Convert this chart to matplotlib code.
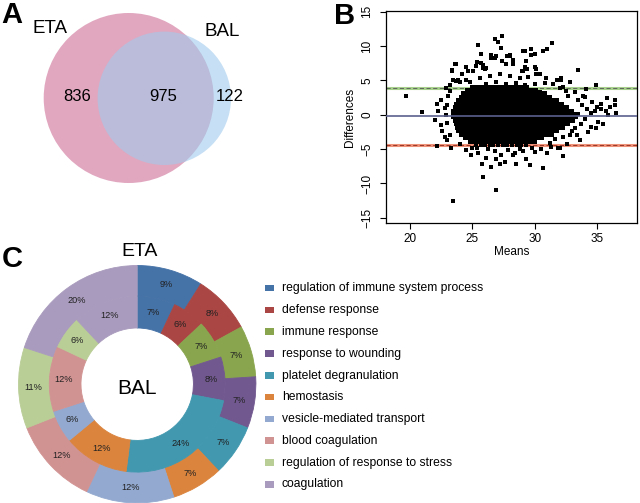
import matplotlib
matplotlib.use("Agg")
import matplotlib.pyplot as plt
from matplotlib.patches import Circle, Rectangle

plt.rcParams['font.family'] = ['Liberation Sans', 'DejaVu Sans']

# --- panel A: venn counts
venn_names = ["ETA", "BAL"]
venn_counts = [836, 975, 122]   # ETA only, both, BAL only

# --- panel B: Bland-Altman (means vs differences)
core_rows_y = [4.1, 3.6, 3.1, 2.6, 2.1, 1.6, 1.1, 0.6, 0.1, -0.4, -0.9,
               -1.4, -1.9, -2.4, -2.9, -3.4, -3.9, -4.4]
core_rows_x = [
    [25.0, 25.3, 25.6, 25.8, 26.1, 26.4, 26.6, 26.9, 27.2, 27.5, 27.7, 28.0, 28.3, 28.5, 28.8, 29.1, 29.4],
    [24.6, 24.9, 25.2, 25.4, 25.7, 26.0, 26.2, 26.5, 26.8, 27.0, 27.3, 27.6, 27.9, 28.1, 28.4, 28.7, 28.9,
     29.2, 29.5, 29.8, 30.1],
    [24.3, 24.6, 24.8, 25.1, 25.4, 25.6, 25.9, 26.2, 26.5, 26.7, 27.0, 27.3, 27.5, 27.8, 28.1, 28.3, 28.6,
     28.9, 29.2, 29.4, 29.7, 30.0, 30.2, 30.5, 30.8],
    [24.1, 24.4, 24.6, 24.9, 25.2, 25.5, 25.7, 26.0, 26.3, 26.5, 26.8, 27.1, 27.4, 27.6, 27.9, 28.2, 28.4,
     28.7, 29.0, 29.3, 29.5, 29.8, 30.1, 30.3, 30.6, 30.9, 31.2],
    [23.9, 24.2, 24.4, 24.7, 25.0, 25.2, 25.5, 25.8, 26.1, 26.3, 26.6, 26.9, 27.1, 27.4, 27.7, 28.0, 28.2,
     28.5, 28.8, 29.0, 29.3, 29.6, 29.9, 30.1, 30.4, 30.7, 30.9, 31.2, 31.5, 31.8],
    [23.7, 24.0, 24.3, 24.5, 24.8, 25.1, 25.3, 25.6, 25.9, 26.2, 26.4, 26.7, 27.0, 27.2, 27.5, 27.8, 28.1,
     28.3, 28.6, 28.9, 29.1, 29.4, 29.7, 30.0, 30.2, 30.5, 30.8, 31.0, 31.3, 31.6, 31.9, 32.2],
    [23.6, 23.9, 24.1, 24.4, 24.7, 24.9, 25.2, 25.5, 25.8, 26.0, 26.3, 26.6, 26.8, 27.1, 27.4, 27.7, 27.9,
     28.2, 28.5, 28.7, 29.0, 29.3, 29.6, 29.8, 30.1, 30.4, 30.6, 30.9, 31.2, 31.5, 31.7, 32.0, 32.3, 32.6],
    [23.5, 23.8, 24.0, 24.3, 24.6, 24.8, 25.1, 25.4, 25.7, 25.9, 26.2, 26.5, 26.7, 27.0, 27.3, 27.6, 27.8,
     28.1, 28.4, 28.6, 28.9, 29.2, 29.5, 29.7, 30.0, 30.3, 30.5, 30.8, 31.1, 31.4, 31.6, 31.9, 32.2, 32.4,
     32.7, 33.0],
    [23.5, 23.7, 24.0, 24.3, 24.5, 24.8, 25.1, 25.4, 25.6, 25.9, 26.2, 26.4, 26.7, 27.0, 27.3, 27.5, 27.8,
     28.1, 28.3, 28.6, 28.9, 29.2, 29.4, 29.7, 30.0, 30.2, 30.5, 30.8, 31.1, 31.3, 31.6, 31.9, 32.1, 32.4,
     32.7, 33.0, 33.2, 33.5],
    [23.5, 23.8, 24.1, 24.3, 24.6, 24.9, 25.1, 25.4, 25.7, 26.0, 26.2, 26.5, 26.8, 27.0, 27.3, 27.6, 27.9,
     28.1, 28.4, 28.7, 28.9, 29.2, 29.5, 29.8, 30.0, 30.3, 30.6, 30.8, 31.1, 31.4, 31.7, 31.9, 32.2, 32.5,
     32.7, 33.0, 33.3],
    [23.6, 23.9, 24.1, 24.4, 24.7, 24.9, 25.2, 25.5, 25.8, 26.0, 26.3, 26.6, 26.8, 27.1, 27.4, 27.7, 27.9,
     28.2, 28.5, 28.7, 29.0, 29.3, 29.6, 29.8, 30.1, 30.4, 30.6, 30.9, 31.2, 31.5, 31.7, 32.0, 32.3, 32.5,
     32.8, 33.1],
    [23.7, 24.0, 24.2, 24.5, 24.8, 25.0, 25.3, 25.6, 25.9, 26.1, 26.4, 26.7, 26.9, 27.2, 27.5, 27.8, 28.0,
     28.3, 28.6, 28.8, 29.1, 29.4, 29.7, 29.9, 30.2, 30.5, 30.7, 31.0, 31.3, 31.6, 31.8, 32.1, 32.4, 32.7],
    [23.8, 24.1, 24.4, 24.6, 24.9, 25.2, 25.4, 25.7, 26.0, 26.3, 26.5, 26.8, 27.1, 27.3, 27.6, 27.9, 28.2,
     28.4, 28.7, 29.0, 29.2, 29.5, 29.8, 30.1, 30.3, 30.6, 30.9, 31.1, 31.4, 31.7, 32.0, 32.3],
    [23.9, 24.2, 24.5, 24.7, 25.0, 25.3, 25.5, 25.8, 26.1, 26.4, 26.6, 26.9, 27.2, 27.4, 27.7, 28.0, 28.3,
     28.5, 28.8, 29.1, 29.3, 29.6, 29.9, 30.2, 30.4, 30.7, 31.0, 31.2, 31.5, 31.8],
    [24.1, 24.4, 24.6, 24.9, 25.2, 25.4, 25.7, 26.0, 26.3, 26.5, 26.8, 27.1, 27.3, 27.6, 27.9, 28.2, 28.4,
     28.7, 29.0, 29.2, 29.5, 29.8, 30.1, 30.3, 30.6, 30.9, 31.1, 31.4],
    [24.4, 24.7, 24.9, 25.2, 25.5, 25.7, 26.0, 26.3, 26.6, 26.8, 27.1, 27.4, 27.6, 27.9, 28.2, 28.5, 28.7,
     29.0, 29.3, 29.5, 29.8, 30.1, 30.4, 30.6],
    [24.8, 25.1, 25.3, 25.6, 25.9, 26.2, 26.4, 26.7, 27.0, 27.2, 27.5, 27.8, 28.1, 28.3, 28.6, 28.9, 29.1,
     29.4, 29.7, 30.0],
    [25.3, 25.7, 26.0, 26.4, 26.7, 27.1, 27.5, 27.8, 28.2, 28.6, 28.9, 29.3],
]
outer_means = [
    26.8, 27.4, 27.1, 25.5, 27.3, 25.7, 26.5, 26.9, 28.0, 29.1, 29.7, 30.0, 31.0, 31.4, 33.5, 23.7,
    23.4, 25.4, 24.7, 25.1, 25.9, 26.1, 27.7, 28.3, 29.1, 29.4, 30.1, 32.1, 32.1, 32.8, 34.9, 34.1,
    29.2, 30.1, 30.4, 29.0, 31.5, 33.2, 33.9, 35.3, 35.8, 36.4, 36.0, 36.4, 35.7, 35.9, 36.5, 34.8,
    35.1, 35.5, 34.5, 34.9, 33.6, 32.6, 32.3, 30.7, 29.6, 29.3, 28.5, 28.3, 30.0, 32.0, 28.8, 33.4,
    33.2, 22.2, 23.0, 23.2, 22.5, 22.0, 22.3, 22.2, 22.5, 23.0, 22.9, 24.5, 25.0, 25.5, 26.1, 26.5,
    27.2, 27.6, 26.9, 25.8, 25.9, 26.9, 23.5, 19.7, 21.0, 23.6, 23.4, 23.7, 23.9, 24.7, 25.3, 25.7,
    26.0, 22.9, 24.5, 26.5, 26.8, 27.4, 28.0, 26.6, 27.8, 28.3, 29.2, 30.7, 29.7, 29.3, 30.0, 30.9,
    31.8, 32.3, 32.7, 25.1, 25.9, 24.5, 24.2, 23.5, 23.2, 25.6, 26.4, 27.2, 28.0, 28.8, 29.5, 24.0,
    24.8, 26.1, 26.9, 27.7, 28.5, 29.2, 30.0, 30.4, 23.3, 24.0, 26.8, 27.3, 27.9, 28.4, 29.1, 29.8,
    30.5, 31.0, 31.3, 26.3, 24.9, 25.4, 22.8, 23.0, 22.6, 23.1, 22.8, 23.2, 33.8, 34.2, 34.0, 34.5,
    33.7, 34.3, 33.5, 34.6, 35.0, 35.3, 34.0, 32.8, 33.0, 32.5, 32.0, 31.6, 31.2, 32.3, 30.8, 31.9,
]
outer_diffs = [
    11.0, 11.4, 10.6, 10.1, 9.7, 8.8, 8.2, 8.6, 8.5, 9.3, 9.6, 8.9, 9.5, 10.4, 6.5, 7.4,
    6.5, 7.7, 6.4, 6.4, 7.2, 6.8, 7.4, 7.4, 6.3, 6.7, 6.0, 5.3, 5.1, 4.8, 4.3, 3.7,
    6.9, 6.6, 5.9, 6.3, 4.5, 3.3, 2.8, 1.6, 2.4, 2.2, 1.1, 1.4, 0.5, 0.0, 0.3, 0.5,
    -1.0, -1.3, -1.8, -2.0, -3.7, -4.3, -6.0, -7.7, -7.3, -6.4, -7.1, -5.9, -5.4, -4.9, -5.0, -2.9,
    -2.0, -4.6, -3.7, -3.0, -1.5, -0.7, 0.6, 1.6, 2.1, 1.4, -0.1, -5.1, -4.9, -5.6, -6.3, -7.6,
    -7.1, -6.9, -6.4, -7.1, -9.1, -11.0, -12.5, 2.7, 0.4, 7.4, 6.4, 4.9, 5.0, 6.4, 7.1, 7.6,
    6.7, 3.9, 5.0, 8.7, 8.2, 7.8, 8.7, 8.3, 8.6, 8.0, 9.3, 9.3, 8.7, 7.8, 6.9, 5.3,
    5.0, 4.0, 2.8, 6.3, 6.8, 7.0, 6.0, 5.1, 4.4, 5.3, 5.7, 5.9, 5.7, 5.3, 5.5, 4.7,
    4.7, 4.5, 4.8, 4.5, 4.6, 4.3, 4.5, 3.3, -4.8, -4.3, -5.3, -5.8, -5.2, -5.6, -5.3, -4.9,
    -5.0, -5.6, -4.7, -5.0, -5.9, -4.8, 1.0, -1.2, -2.4, 2.8, -3.3, 3.4, 1.4, 0.8, -0.6, 0.2,
    -1.3, -2.5, 2.2, 1.8, 1.1, 0.9, 2.6, -3.0, -2.4, 3.5, 3.9, -3.6, -4.1, -3.3, 4.6, -4.8,
]
mean_diff = -0.2
upper_loa = 3.95
lower_loa = -4.45

# --- panel C: GO terms, percentage of proteins per ring
go_terms = ["regulation of immune system process", "defense response", "immune response",
            "response to wounding", "platelet degranulation", "hemostasis",
            "vesicle-mediated transport", "blood coagulation",
            "regulation of response to stress", "coagulation"]
eta_pct = [9, 8, 7, 7, 7, 7, 12, 12, 11, 20]
bal_pct = [7, 6, 7, 8, 24, 12, 6, 12, 6, 12]
go_colors = ["#4572A7", "#AA4643", "#89A54E", "#71588F", "#4198AF",
             "#DB843D", "#93A9CF", "#D19392", "#B9CD96", "#A99BBD"]

H = 503
fig = plt.figure(figsize=(6.4, 5.03), dpi=100)

# background axes in pixel units (y up) for panels A and C
ax0 = fig.add_axes([0, 0, 1, 1])

# A: venn
ax0.add_patch(Circle((128.7, H - 98), 85, color="#E1A7BF", lw=0))
ax0.add_patch(Circle((164.3, H - 98.3), 66.7, color="#A0CBED", alpha=0.6, lw=0))
ax0.text(50.5, H - 28, venn_names[0], fontsize=13.5, ha="center", va="center")
ax0.text(222.5, H - 31, venn_names[1], fontsize=13.5, ha="center", va="center")
for xc, n in zip([77, 163, 230], venn_counts):
    ax0.text(xc, H - 96.5, str(n), fontsize=12, ha="center", va="center")

# C: donut
cx, cy = 137.2, H - 384.2
ring_specs = [(eta_pct, 118.7, 30.8, 0.872), (bal_pct, 87.9, 31.7, 0.84)]
for pct, rad, wid, pdist in ring_specs:
    wedges, _, _ = ax0.pie(pct, colors=go_colors, radius=rad, center=(cx, cy), startangle=90,
                           counterclock=False, wedgeprops=dict(width=wid, linewidth=0.6),
                           autopct=lambda p: "%d%%" % round(p), pctdistance=pdist,
                           textprops=dict(fontsize=6.6, color="#222222"))
    for w in wedges:
        w.set_edgecolor(w.get_facecolor())
ax0.text(140, H - 251.7, "ETA", fontsize=14, ha="center", va="center")
ax0.text(137, H - 388, "BAL", fontsize=15, ha="center", va="center")

# legend, drawn row by row
for i, (term, col) in enumerate(zip(go_terms, go_colors)):
    yy = H - (288.3 + i * 21.8)
    ax0.add_patch(Rectangle((265, yy - 3), 8.5, 6.5, color=col, lw=0))
    ax0.text(282, yy, term, fontsize=8.7, ha="left", va="center")

# panel letters
ax0.text(12, H - 23, "A", fontsize=21, fontweight="bold", ha="center", va="baseline")
ax0.text(345, H - 24, "B", fontsize=21, fontweight="bold", ha="center", va="baseline")
ax0.text(12, H - 267, "C", fontsize=21, fontweight="bold", ha="center", va="baseline")

ax0.set_xlim(0, 640)
ax0.set_ylim(0, H)
ax0.set_aspect("auto")
ax0.axis("off")

# B: Bland-Altman plot
means = [x for y, row in zip(core_rows_y, core_rows_x) for x in row] + outer_means
diffs = [y for y, row in zip(core_rows_y, core_rows_x) for x in row] + outer_diffs

axB = fig.add_axes([386 / 640, 1 - 223.3 / H, 251 / 640, 212.3 / H])
axB.scatter(means, diffs, s=5.7, marker="s", color="black", linewidths=0, zorder=2)
axB.axhline(upper_loa, color="#A8D08D", lw=2.2, zorder=1)
axB.axhline(upper_loa, color="#555555", lw=0.6, ls=(0, (5, 3)), zorder=1.5)
axB.axhline(mean_diff, color="#5B5F8E", lw=1.2, zorder=3)
axB.axhline(lower_loa, color="#EE8F78", lw=2.2, zorder=1)
axB.axhline(lower_loa, color="#8B2A1A", lw=0.6, ls=(0, (5, 3)), zorder=1.5)

axB.set_xlim(18.1, 38.2)
axB.set_ylim(-15.8, 15.1)
axB.set_xticks([20, 25, 30, 35])
axB.set_yticks([-15, -10, -5, 0, 5, 10, 15])
axB.tick_params(direction="out", length=4, width=0.8, labelsize=8.5, pad=3)
axB.tick_params(axis="y", labelrotation=90, pad=5)
for lbl in axB.get_yticklabels():
    lbl.set_va("center")
axB.set_xlabel("Means", fontsize=8.5, labelpad=1)
axB.set_ylabel("Differences", fontsize=8.5, labelpad=4)
for sp in axB.spines.values():
    sp.set_linewidth(0.9)

fig.savefig("out.png", dpi=100)
